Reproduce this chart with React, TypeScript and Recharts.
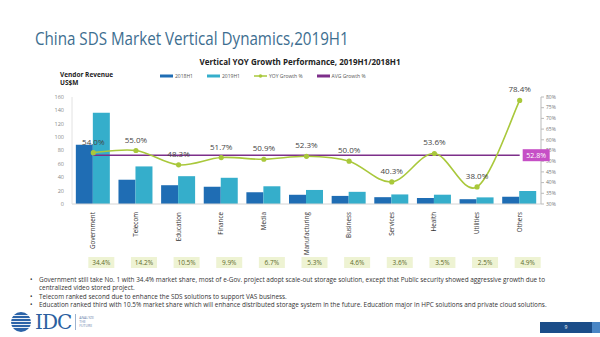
import * as React from "react"
import { Bar, ComposedChart, LabelList, Line, XAxis, YAxis } from "recharts"

const categories = ["Government", "Telecom", "Education", "Finance", "Media", "Manufacturing", "Business", "Services", "Health", "Utilities", "Others"]
const rev2018 = [88.5, 36.3, 28.1, 25.8, 17.6, 13.8, 12.1, 10.2, 9.0, 7.2, 10.9]
const rev2019 = [136.3, 56.2, 41.6, 39.2, 26.5, 21.0, 18.2, 14.3, 13.9, 9.9, 19.4]
const yoyGrowth = [54.0, 55.0, 48.3, 51.7, 50.9, 52.3, 50.0, 40.3, 53.6, 38.0, 78.4]
const avgGrowth = 52.8
const marketShare = ["34.4%", "14.2%", "10.5%", "9.9%", "6.7%", "5.3%", "4.6%", "3.6%", "3.5%", "2.5%", "4.9%"]
const leftTicks = [0, 20, 40, 60, 80, 100, 120, 140, 160]
const rightTicks = [30, 35, 40, 45, 50, 55, 60, 65, 70, 75, 80]

const bullets = [
  "Government still take No. 1 with 34.4% market share, most of e-Gov. project adopt scale-out storage solution, except that Public security showed aggressive growth due to centralized video stored project.",
  "Telecom ranked second due to enhance the SDS solutions to support VAS business.",
  "Education ranked third with 10.5% market share which will enhance distributed storage system in the future. Education major in HPC solutions and private cloud solutions.",
]

const data = categories.map((name, i) => ({
  name,
  h2018: rev2018[i],
  h2019: rev2019[i],
  yoy: yoyGrowth[i],
  avg: avgGrowth,
  share: marketShare[i],
}))

const C2018 = "#1f6db4"
const C2019 = "#35aecb"
const CYOY = "#a9c83b"
const CAVG = "#7d2f8a"
const FONT = "'Open Sans', sans-serif"

// Excel-like smoothed line (cardinal spline)
const smoothCurve = (context: any) => {
  let pts: number[][] = []
  return {
    areaStart() {},
    areaEnd() {},
    lineStart() { pts = [] },
    point(x: number, y: number) { pts.push([+x, +y]) },
    lineEnd() {
      if (!pts.length) return
      context.moveTo(pts[0][0], pts[0][1])
      const t = 1 / 6
      for (let i = 0; i < pts.length - 1; i++) {
        const p0 = pts[Math.max(i - 1, 0)]
        const p1 = pts[i]
        const p2 = pts[i + 1]
        const p3 = pts[Math.min(i + 2, pts.length - 1)]
        context.bezierCurveTo(
          p1[0] + (p2[0] - p0[0]) * t, p1[1] + (p2[1] - p0[1]) * t,
          p2[0] - (p3[0] - p1[0]) * t, p2[1] - (p3[1] - p1[1]) * t,
          p2[0], p2[1]
        )
      }
    },
  }
}

const CategoryTick = (props: any) => {
  const { x, y, payload } = props
  const i = payload.index
  return (
    <g>
      <text
        x={x + 2}
        y={y}
        transform={`rotate(-90, ${x + 2}, ${y})`}
        textAnchor="end"
        fontSize={6.3}
        fill="#333"
        fontFamily={FONT}
      >
        {payload.value}
      </text>
      <rect x={x - 5} y={y + 45} width={26} height={11} fill="#eef3d3" />
      <text x={x + 8} y={y + 53} textAnchor="middle" fontSize={6.5} fill="#5d6b2c" fontFamily={FONT}>
        {marketShare[i]}
      </text>
    </g>
  )
}

const YoyLabel = (props: any) => {
  const { x, y, value } = props
  return (
    <text x={x} y={y - 8} textAnchor="middle" fontSize={8} fill="#444" fontFamily={FONT}>
      {value.toFixed(1)}%
    </text>
  )
}

const AvgLabel = (props: any) => {
  const { x, y, index } = props
  if (index !== categories.length - 1) return null
  return (
    <g>
      <rect x={x + 3} y={y - 6} width={27} height={12} fill="#c64fc6" />
      <text x={x + 16.5} y={y + 2.5} textAnchor="middle" fontSize={7} fill="#fff" fontFamily={FONT}>
        {avgGrowth.toFixed(1)}%
      </text>
    </g>
  )
}

const LegendItem = ({ color, label, dot }: { color: string; label: string; dot?: boolean }) => (
  <div style={{ display: "flex", alignItems: "center", marginRight: 14 }}>
    <svg width={13} height={6}>
      <line x1={0} y1={3} x2={13} y2={3} stroke={color} strokeWidth={dot ? 1.5 : 3} />
      {dot && <circle cx={6.5} cy={3} r={1.8} fill={color} />}
    </svg>
    <span style={{ marginLeft: 2, fontSize: 5, color: "#555" }}>{label}</span>
  </div>
)

const IdcLogo = () => (
  <div style={{ position: "absolute", left: 10, top: 310, display: "flex", alignItems: "center" }}>
    <svg width={22} height={22}>
      <circle cx={11} cy={11} r={10} fill="#2b63a8" />
      {[4, 7, 10, 13, 16].map((yy) => (
        <line key={yy} x1={0} y1={yy + 0.5} x2={22} y2={yy + 0.5} stroke="#fff" strokeWidth={0.9} />
      ))}
    </svg>
    <span style={{ fontFamily: "'DejaVu Serif', serif", fontSize: 20, color: "#2b5fa0", marginLeft: 3, letterSpacing: -1 }}>IDC</span>
    <div style={{ width: 1, height: 16, background: "#9db3cf", marginLeft: 4 }} />
    <div style={{ fontSize: 3.5, color: "#6a86ad", marginLeft: 3, lineHeight: "4px" }}>
      ANALYZE<br />THE<br />FUTURE
    </div>
  </div>
)

export default function App() {
  return (
    <div style={{ position: "absolute", left: 0, top: 0, width: 600, height: 337, background: "#fff", overflow: "hidden", fontFamily: FONT }}>
      <div style={{ position: "absolute", left: 35, top: 25, fontSize: 18.5, color: "#3d6e90", whiteSpace: "nowrap", transform: "scaleX(0.82)", transformOrigin: "left top" }}>
        China SDS Market Vertical Dynamics,2019H1
      </div>
      <div style={{ position: "absolute", left: 0, width: 600, top: 56, textAlign: "center", fontSize: 8, fontWeight: 700, color: "#222" }}>
        Vertical YOY Growth Performance, 2019H1/2018H1
      </div>
      <div style={{ position: "absolute", left: 60, top: 71, fontSize: 6.5, fontWeight: 700, color: "#222", lineHeight: "8px" }}>
        Vendor Revenue<br />US$M
      </div>
      <div style={{ position: "absolute", left: 160, top: 73, display: "flex" }}>
        <LegendItem color={C2018} label="2018H1" />
        <LegendItem color={C2019} label="2019H1" />
        <LegendItem color={CYOY} label="YOY Growth %" dot />
        <LegendItem color={CAVG} label="AVG Growth %" />
      </div>

      <div style={{ position: "absolute", left: 0, top: 0 }}>
        <ComposedChart
          width={600}
          height={337}
          data={data}
          margin={{ top: 97, right: 29, bottom: 73, left: 42 }}
          barCategoryGap="9%"
          barGap={0}
        >
          <XAxis
            dataKey="name"
            interval={0}
            tick={<CategoryTick />}
            tickLine={false}
            axisLine={{ stroke: "#d4d4d4" }}
            height={60}
          />
          <YAxis
            yAxisId="left"
            domain={[0, 160]}
            ticks={leftTicks}
            width={30}
            tick={{ fontSize: 5.5, fill: "#888", fontFamily: FONT }}
            tickLine={false}
            axisLine={{ stroke: "#e2e2e2" }}
          />
          <YAxis
            yAxisId="right"
            orientation="right"
            domain={[30, 80]}
            ticks={rightTicks}
            width={30}
            tickFormatter={(v: number) => `${v}%`}
            tick={{ fontSize: 5, fill: "#777", fontFamily: FONT }}
            tickLine={{ stroke: "#bbb" }}
            tickSize={3}
            axisLine={{ stroke: "#bbb" }}
          />
          <Bar yAxisId="left" dataKey="h2018" fill={C2018} isAnimationActive={false} />
          <Bar yAxisId="left" dataKey="h2019" fill={C2019} isAnimationActive={false} />
          <Line
            yAxisId="right"
            dataKey="avg"
            stroke={CAVG}
            strokeWidth={1.5}
            dot={false}
            isAnimationActive={false}
          >
            <LabelList dataKey="avg" content={<AvgLabel />} />
          </Line>
          <Line
            yAxisId="right"
            dataKey="yoy"
            type={smoothCurve as any}
            stroke={CYOY}
            strokeWidth={1.6}
            dot={{ r: 1.8, fill: CYOY, stroke: CYOY }}
            isAnimationActive={false}
          >
            <LabelList dataKey="yoy" content={<YoyLabel />} />
          </Line>
        </ComposedChart>
      </div>

      <div style={{ position: "absolute", left: 30, top: 276, width: 540, fontSize: 6.4, color: "#333", lineHeight: "8.3px" }}>
        {bullets.map((b, i) => (
          <div key={i} style={{ display: "flex" }}>
            <span style={{ width: 9, flexShrink: 0 }}>•</span>
            <span>{b}</span>
          </div>
        ))}
      </div>

      <IdcLogo />
      <div style={{ position: "absolute", left: 540, top: 322, width: 52, height: 11, background: "#1b4d89" }}>
        <div style={{ textAlign: "center", color: "#fff", fontSize: 5, lineHeight: "11px" }}>9</div>
      </div>
      <div style={{ position: "absolute", left: 592, top: 322, width: 8, height: 11, background: "#4a86c5" }} />
    </div>
  )
}
